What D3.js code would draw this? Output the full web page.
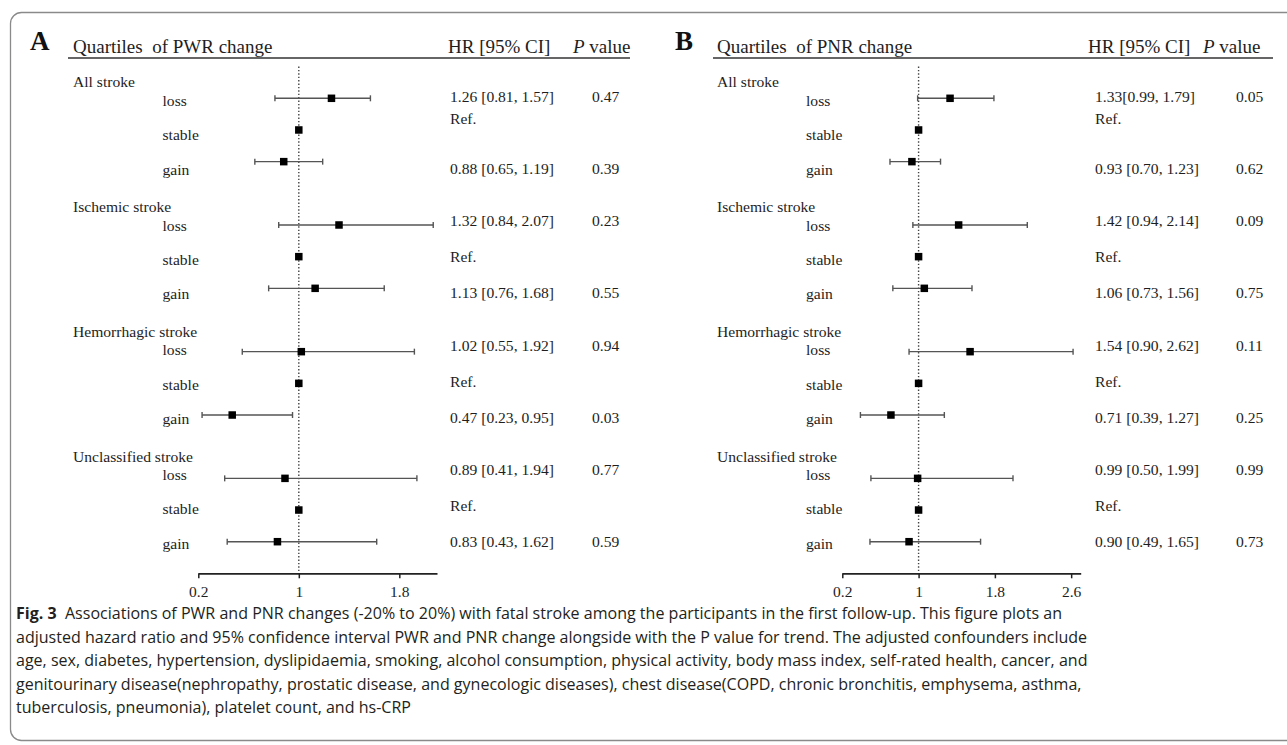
<!DOCTYPE html>
<html><head><meta charset="utf-8">
<script src="https://cdn.jsdelivr.net/npm/d3@7"></script>
<style>html,body{margin:0;padding:0;background:#fff;} svg{display:block;}</style>
</head><body>
<svg id="chart" width="1287" height="745"></svg>
<script>
// ---------------- DATA ----------------
const groups = ["All stroke", "Ischemic stroke", "Hemorrhagic stroke", "Unclassified stroke"];
const levels = ["loss", "stable", "gain"];

// Panel A: PWR change
const pwrHR   = [1.26, 1, 0.88,  1.32, 1, 1.13,  1.02, 1, 0.47,  0.89, 1, 0.83];
const pwrLow  = [0.81, null, 0.65,  0.84, null, 0.76,  0.55, null, 0.23,  0.41, null, 0.43];
const pwrHigh = [1.57, null, 1.19,  2.07, null, 1.68,  1.92, null, 0.95,  1.94, null, 1.62];
const pwrCI   = ["1.26 [0.81, 1.57]", "Ref.", "0.88 [0.65, 1.19]",
                 "1.32 [0.84, 2.07]", "Ref.", "1.13 [0.76, 1.68]",
                 "1.02 [0.55, 1.92]", "Ref.", "0.47 [0.23, 0.95]",
                 "0.89 [0.41, 1.94]", "Ref.", "0.83 [0.43, 1.62]"];
const pwrP    = ["0.47", "", "0.39",  "0.23", "", "0.55",  "0.94", "", "0.03",  "0.77", "", "0.59"];

// Panel B: PNR change
const pnrHR   = [1.33, 1, 0.93,  1.42, 1, 1.06,  1.54, 1, 0.71,  0.99, 1, 0.90];
const pnrLow  = [0.99, null, 0.70,  0.94, null, 0.73,  0.90, null, 0.39,  0.50, null, 0.49];
const pnrHigh = [1.79, null, 1.23,  2.14, null, 1.56,  2.62, null, 1.27,  1.99, null, 1.65];
const pnrCI   = ["1.33[0.99, 1.79]", "Ref.", "0.93 [0.70, 1.23]",
                 "1.42 [0.94, 2.14]", "Ref.", "1.06 [0.73, 1.56]",
                 "1.54 [0.90, 2.62]", "Ref.", "0.71 [0.39, 1.27]",
                 "0.99 [0.50, 1.99]", "Ref.", "0.90 [0.49, 1.65]"];
const pnrP    = ["0.05", "", "0.62",  "0.09", "", "0.75",  "0.11", "", "0.25",  "0.99", "", "0.73"];

const ticksA = [0.2, 1, 1.8];
const ticksB = [0.2, 1, 1.8, 2.6];
const domainA = [0.2, 2.1];
const domainB = [0.2, 2.7];

const captionBold = "Fig. 3";
const captionLines = [
  "Associations of PWR and PNR changes (-20% to 20%) with fatal stroke among the participants in the first follow-up. This figure plots an",
  "adjusted hazard ratio and 95% confidence interval PWR and PNR change alongside with the P value for trend. The adjusted confounders include",
  "age, sex, diabetes, hypertension, dyslipidaemia, smoking, alcohol consumption, physical activity, body mass index, self-rated health, cancer, and",
  "genitourinary disease(nephropathy, prostatic disease, and gynecologic diseases), chest disease(COPD, chronic bronchitis, emphysema, asthma,",
  "tuberculosis, pneumonia), platelet count, and hs-CRP"
];

// ---------------- LAYOUT ----------------
const SERIF = "'Liberation Serif', 'Times New Roman', Times, serif";
const SANS = "'Open Sans', 'Noto Sans', sans-serif";
const INK = "#1e1e1e";

const svg = d3.select("#chart");

// frame
svg.append("rect")
  .attr("x", 10.5).attr("y", 12.5)
  .attr("width", 1300).attr("height", 728)
  .attr("rx", 11).attr("ry", 11)
  .attr("fill", "none").attr("stroke", "#8a8a8a").attr("stroke-width", 1.3);

const yMark = d3.scaleLinear().domain([0, 14]).range([98.3, 541.7]);
const slot = (g, i) => g * 4 + i;

const panels = [
  { letter: "A", title: "Quartiles\u00A0 of PWR change", hr: pwrHR, lo: pwrLow, hi: pwrHigh, ci: pwrCI, p: pwrP,
    ticks: ticksA, domain: domainA, range: [198.3, 437],
    letterX: 30, titleX: 73, lineX: [68, 630], groupX: 73, levelX: 162.5, ciHeadX: 448, pHeadX: 573,
    ciX: 450, pX: 592 },
  { letter: "B", title: "Quartiles\u00A0 of PNR change", hr: pnrHR, lo: pnrLow, hi: pnrHigh, ci: pnrCI, p: pnrP,
    ticks: ticksB, domain: domainB, range: [842.3, 1080.7],
    letterX: 675, titleX: 717, lineX: [713, 1273], groupX: 717, levelX: 806, ciHeadX: 1088, pHeadX: 1203,
    ciX: 1095, pX: 1236 }
];

const axisY = 573.3;

panels.forEach(P => {
  const g = svg.append("g");
  const x = d3.scaleLinear().domain(P.domain).range(P.range);

  g.append("text").attr("x", P.letterX).attr("y", 50)
    .attr("font-family", SERIF).attr("font-weight", "bold").attr("font-size", 27)
    .attr("fill", "#111").text(P.letter);

  g.append("text").attr("x", P.titleX).attr("y", 52.5)
    .attr("font-family", SERIF).attr("font-size", 19).attr("fill", INK)
    .style("white-space", "pre").text(P.title);
  g.append("text").attr("x", P.ciHeadX).attr("y", 52.5)
    .attr("font-family", SERIF).attr("font-size", 19).attr("fill", INK)
    .text("HR [95% CI]");
  const ph = g.append("text").attr("x", P.pHeadX).attr("y", 52.5)
    .attr("font-family", SERIF).attr("font-size", 19).attr("fill", INK);
  ph.append("tspan").attr("font-style", "italic").text("P");
  ph.append("tspan").text(" value");
  g.append("line").attr("x1", P.lineX[0]).attr("x2", P.lineX[1])
    .attr("y1", 58).attr("y2", 58).attr("stroke", "#333").attr("stroke-width", 1.6);

  g.append("line").attr("x1", x(1)).attr("x2", x(1))
    .attr("y1", 66.5).attr("y2", axisY)
    .attr("stroke", "#444").attr("stroke-width", 1.4).attr("stroke-dasharray", "1.4,2");

  groups.forEach((grp, gi) => {
    g.append("text").attr("x", P.groupX).attr("y", 87 + gi * 125)
      .attr("font-family", SERIF).attr("font-size", 15.6).attr("fill", INK).text(grp);

    levels.forEach((lv, li) => {
      const k = gi * 3 + li;
      const ym = yMark(slot(gi, li));

      g.append("text").attr("x", P.levelX).attr("y", 106 + gi * 124.7 + li * 34.3)
        .attr("font-family", SERIF).attr("font-size", 15.6).attr("fill", INK).text(lv);

      if (P.lo[k] != null) {
        g.append("line").attr("x1", x(P.lo[k])).attr("x2", x(P.hi[k]))
          .attr("y1", ym).attr("y2", ym).attr("stroke", "#555").attr("stroke-width", 1.4);
        [P.lo[k], P.hi[k]].forEach(v => {
          g.append("line").attr("x1", x(v)).attr("x2", x(v))
            .attr("y1", ym - 3).attr("y2", ym + 3).attr("stroke", "#555").attr("stroke-width", 1.4);
        });
      }
      const s = 7.5;
      g.append("rect").attr("x", x(P.hr[k]) - s / 2).attr("y", ym - s / 2)
        .attr("width", s).attr("height", s).attr("fill", "#000");

      const ty = 102 + gi * 124.3 + li * 36 - (gi === 0 && li === 1 ? 14 : 0);
      g.append("text").attr("x", P.ciX).attr("y", ty)
        .attr("font-family", SERIF).attr("font-size", 15.6).attr("fill", INK).text(P.ci[k]);
      if (P.p[k]) {
        g.append("text").attr("x", P.pX).attr("y", ty)
          .attr("font-family", SERIF).attr("font-size", 15.6).attr("fill", INK).text(P.p[k]);
      }
    });
  });

  const ax = g.append("g").attr("transform", `translate(0,${axisY})`)
    .call(d3.axisBottom(x).tickValues(P.ticks).tickFormat(d => String(d))
      .tickSizeInner(5).tickSizeOuter(0).tickPadding(8));
  ax.select(".domain").attr("stroke", "#222").attr("stroke-width", 1.7);
  ax.selectAll(".tick line").attr("stroke", "#222").attr("stroke-width", 1.5);
  ax.selectAll(".tick text").attr("font-family", SERIF).attr("font-size", 15.5).attr("fill", INK);
});

// caption: one common font size, chosen so the first line spans the reference width
const capY = [619, 642.5, 666, 689.5, 713];
const capTexts = captionLines.map((line, i) => {
  const t = svg.append("text").attr("x", 16).attr("y", capY[i])
    .attr("font-family", SANS).attr("font-size", 16).attr("fill", "#231f20")
    .style("white-space", "pre");
  if (i === 0) {
    t.append("tspan").attr("font-weight", "bold").text(captionBold);
    t.append("tspan").text("  " + line);
  } else {
    t.text(line);
  }
  return t;
});
const w0 = capTexts[0].node().getComputedTextLength();
const fs = 16 * 1047 / w0;
capTexts.forEach(t => t.attr("font-size", fs));
</script></body></html>
